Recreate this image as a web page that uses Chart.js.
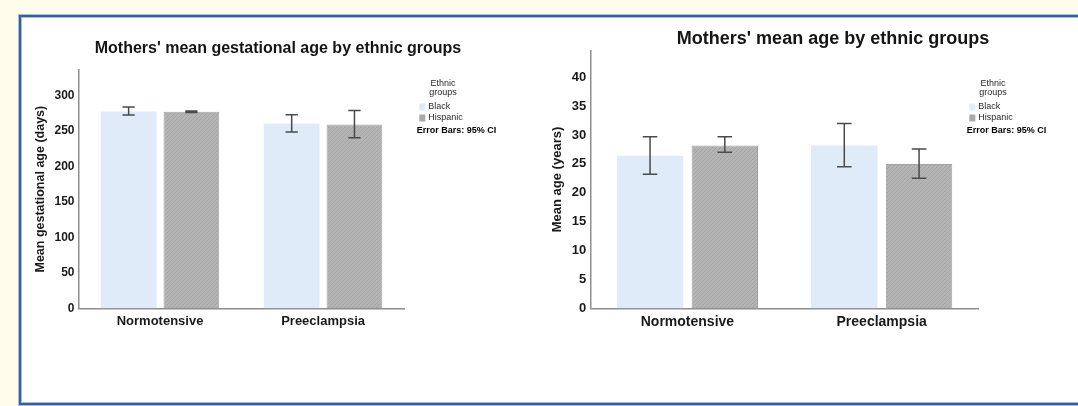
<!DOCTYPE html>
<html>
<head>
<meta charset="utf-8">
<script src="https://cdn.jsdelivr.net/npm/chart.js@4.4.1/dist/chart.umd.min.js"></script>
<style>
  html, body { margin: 0; padding: 0; width: 1078px; height: 406px; overflow: hidden; background: #fffcec; }
  #frame {
    position: absolute; left: 19px; top: 15px; width: 1100px; height: 390px;
    box-sizing: border-box; border: 2px solid #36609a; background: #fff;
    box-shadow: 0 0 0 1px #a9bdd9, inset 0 0 0 1px #a9bdd9;
  }
  .panel { position: absolute; top: 0; height: 406px; }
</style>
</head>
<body>
<div id="frame"></div>
<div class="panel" style="left:0;width:540px"><canvas id="gestation" width="540" height="406"></canvas></div>
<div class="panel" style="left:540px;width:538px"><canvas id="maternalAge" width="538" height="406"></canvas></div>
<script>
// Study groups and ethnic groups
const groups = ['Normotensive', 'Preeclampsia'];
const ethnicGroups = ['Black', 'Hispanic'];

// Mean gestational age (days) and 95% CI
const gestBlack = [277.6, 260.5];
const gestHispanic = [277.2, 259.0];
const gestBlackCI = [[272.5, 284.0], [248.5, 273.0]];
const gestHispanicCI = [[276.0, 278.3], [240.5, 279.0]];
const gestTickStep = 50;
const gestAxisMax = 336;

// Mean maternal age (years) and 95% CI
const ageBlack = [26.4, 28.2];
const ageHispanic = [28.2, 25.0];
const ageBlackCI = [[23.2, 29.7], [24.5, 32.0]];
const ageHispanicCI = [[27.0, 29.7], [22.5, 27.6]];
const ageTickStep = 5;
const ageAxisMax = 44.6;

const FONT = '"Liberation Sans", Arial, Helvetica, sans-serif';
Chart.defaults.font.family = FONT;
Chart.defaults.color = '#1a1a1a';

const blackFill = '#dfebf9';

// fine grey hatch used for the Hispanic bars
function greyHatch() {
  const c = document.createElement('canvas');
  c.width = 4; c.height = 4;
  const g = c.getContext('2d');
  g.fillStyle = '#b4b4b4';
  g.fillRect(0, 0, 4, 4);
  g.fillStyle = '#a5a5a5';
  for (let i = 0; i < 4; i++) g.fillRect(i, 3 - i, 1, 1);
  return g.createPattern(c, 'repeat');
}
const hispanicFill = greyHatch();

// whiskers with caps for the confidence intervals
const errorBars = {
  id: 'errorBars',
  afterDatasetsDraw(chart, args, opts) {
    const { ctx } = chart;
    const y = chart.scales.y;
    chart.data.datasets.forEach((ds, i) => {
      chart.getDatasetMeta(i).data.forEach((bar, j) => {
        const [lo, hi] = ds.ci[j];
        const x = bar.x;
        const half = bar.width * opts.capRatio / 2;
        const yl = y.getPixelForValue(lo);
        const yh = y.getPixelForValue(hi);
        ctx.save();
        ctx.strokeStyle = opts.color;
        ctx.lineWidth = opts.width;
        ctx.beginPath();
        ctx.moveTo(x, yh); ctx.lineTo(x, yl);
        ctx.moveTo(x - half, yh); ctx.lineTo(x + half, yh);
        ctx.moveTo(x - half, yl); ctx.lineTo(x + half, yl);
        ctx.stroke();
        ctx.restore();
      });
    });
  }
};

// panel heading plus the small SPSS-style key beside the plot
const panelText = {
  id: 'panelText',
  afterDraw(chart, args, o) {
    const { ctx } = chart;
    ctx.save();
    ctx.textBaseline = 'middle';
    ctx.textAlign = 'center';
    ctx.fillStyle = '#141414';
    ctx.font = `bold ${o.titleSize}px ${FONT}`;
    ctx.fillText(o.title, o.titleX, o.titleY);

    const lx = o.keyX, ly = o.keyY;
    ctx.fillStyle = '#2a2a2a';
    ctx.font = `9px ${FONT}`;
    ctx.fillText('Ethnic', lx + 26.3, ly);
    ctx.fillText('groups', lx + 26.3, ly + 9);
    ctx.textAlign = 'left';
    chart.data.datasets.forEach((ds, i) => {
      const top = ly + 20.2 + i * 11;
      ctx.fillStyle = ds.keyColor;
      ctx.fillRect(lx + 2.6, top, 6, 7);
      ctx.fillStyle = '#2a2a2a';
      ctx.fillText(ds.label, lx + 11.6, top + 3.3);
    });
    ctx.fillStyle = '#000';
    ctx.font = `bold 9px ${FONT}`;
    ctx.fillText('Error Bars: 95% CI', lx, ly + 47.4);
    ctx.restore();
  }
};

function barChart(id, cfg) {
  return new Chart(document.getElementById(id), {
    type: 'bar',
    data: {
      labels: groups,
      datasets: [
        { label: ethnicGroups[0], data: cfg.black, ci: cfg.blackCI, backgroundColor: blackFill, keyColor: blackFill, borderWidth: 0 },
        { label: ethnicGroups[1], data: cfg.hispanic, ci: cfg.hispanicCI, backgroundColor: hispanicFill, keyColor: '#a9a9a9', borderColor: '#a2a2a2', borderWidth: 1 }
      ]
    },
    options: {
      responsive: false,
      animation: false,
      events: [],
      categoryPercentage: 0.77,
      barPercentage: 0.888,
      layout: { padding: cfg.padding },
      scales: {
        x: {
          grid: { display: false, drawTicks: false },
          border: { display: true, color: '#8e8e8e', width: 1.5 },
          ticks: { color: '#1a1a1a', padding: 5, font: { size: cfg.catSize, weight: 'bold' } },
          afterFit(s) { s.height = cfg.xHeight; }
        },
        y: {
          min: 0,
          max: cfg.max,
          grid: { display: false, drawTicks: false },
          border: { display: true, color: '#8e8e8e', width: 1.5 },
          ticks: { stepSize: cfg.step, includeBounds: false, padding: 4, color: '#1a1a1a', font: { size: cfg.tickSize, weight: 'bold' } },
          title: { display: true, text: cfg.yTitle, color: '#1a1a1a', font: { size: cfg.yTitleSize, weight: 'bold' }, padding: { top: cfg.yTitlePad, bottom: 0 } },
          afterFit(s) { s.width = cfg.yWidth; }
        }
      },
      plugins: {
        legend: { display: false },
        tooltip: { enabled: false },
        errorBars: { color: '#4a4a4a', width: 1.5, capRatio: 0.22 },
        panelText: cfg.text
      }
    },
    plugins: [errorBars, panelText]
  });
}

barChart('gestation', {
  black: gestBlack, hispanic: gestHispanic, blackCI: gestBlackCI, hispanicCI: gestHispanicCI,
  max: gestAxisMax, step: gestTickStep,
  padding: { left: 0, top: 70, right: 135.4, bottom: 0 },
  xHeight: 97.7, yWidth: 78.5,
  catSize: 13, tickSize: 12, yTitleSize: 12.5, yTitlePad: 33.5,
  yTitle: 'Mean gestational age (days)',
  text: { title: "Mothers' mean gestational age by ethnic groups", titleSize: 16, titleX: 278, titleY: 48.3, keyX: 416.7, keyY: 83.3 }
});

barChart('maternalAge', {
  black: ageBlack, hispanic: ageHispanic, blackCI: ageBlackCI, hispanicCI: ageHispanicCI,
  max: ageAxisMax, step: ageTickStep,
  padding: { left: 0, top: 50.7, right: 99.2, bottom: 0 },
  xHeight: 97.7, yWidth: 50.3,
  catSize: 14, tickSize: 13, yTitleSize: 13, yTitlePad: 9.2,
  yTitle: 'Mean age (years)',
  text: { title: "Mothers' mean age by ethnic groups", titleSize: 18, titleX: 293, titleY: 39.3, keyX: 426.7, keyY: 83.3 }
});
</script>
</body>
</html>
